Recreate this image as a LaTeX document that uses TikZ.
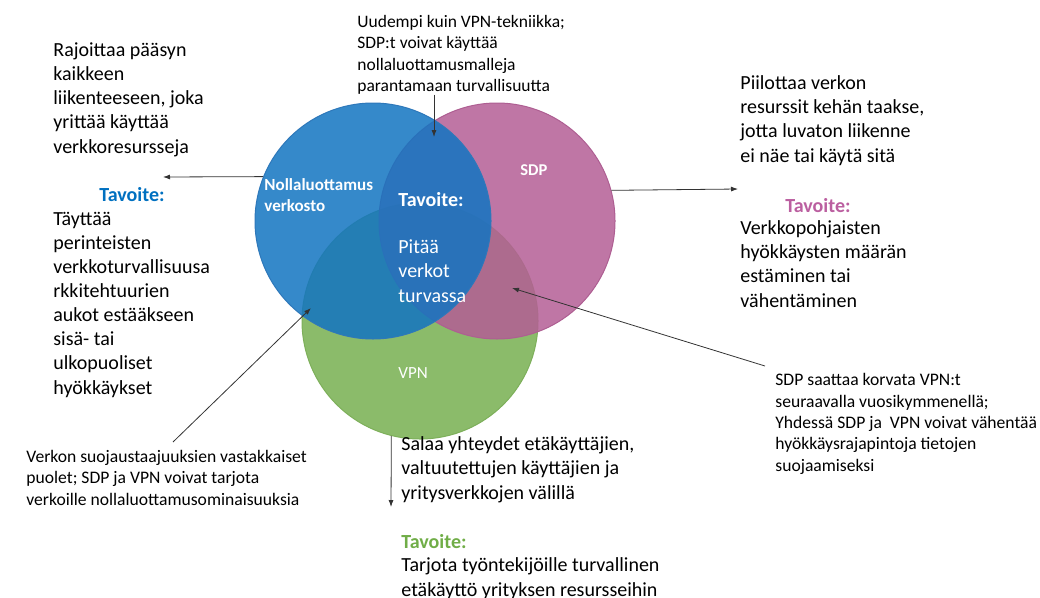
\documentclass[tikz,border=0pt]{standalone}
\usepackage{fontspec}
\setmainfont{Carlito}
\usepackage{tikz}
\usetikzlibrary{%
  arrows.meta, calc, positioning
}
\usepackage{xcolor}
\definecolor{ztblue}{HTML}{1274C1}
\definecolor{ztline}{HTML}{2E78BA}
\definecolor{sdppink}{HTML}{B45E95}
\definecolor{sdpline}{HTML}{AE5E92}
\definecolor{vpngreen}{HTML}{8BBB6A}
\definecolor{vpnline}{HTML}{7DAF5A}
\definecolor{goalblue}{HTML}{0070C0}
\definecolor{goalpink}{HTML}{BB5FA0}
\definecolor{goalgreen}{HTML}{70AD47}
\definecolor{arrowgray}{HTML}{333333}
% multi-line text nodes sit on the baseline of their last line
\tikzstyle{venn} = [%
  circle,
  minimum size=236pt,
  inner sep=0pt,
  line width=1pt,
  fill opacity=0.85
]
\tikzstyle{bigtxt} = [%
  anchor=base west,
  align=left,
  inner sep=0pt,
  font=\fontsize{20}{24.1}\selectfont
]
\tikzstyle{midtxt} = [%
  anchor=base west,
  align=left,
  inner sep=0pt,
  font=\fontsize{17.5}{21.5}\selectfont
]
\tikzstyle{smalltxt} = [%
  anchor=base west,
  align=left,
  inner sep=0pt,
  font=\fontsize{17.6}{21.3}\selectfont
]
\tikzstyle{goal} = [%
  anchor=base,
  inner sep=0pt,
  font=\fontsize{20}{24}\selectfont\bfseries
]

\begin{document}
\begin{tikzpicture}[%
  x=1pt, y=-1pt,
  >={Latex[length=7pt,width=5pt]},
  every path/.style={line width=0.8pt},
  link/.style={->,draw=arrowgray}
]
  \useasboundingbox (0,0) rectangle (1040,597);

  % Circles
  \node[venn,fill=vpngreen,draw=vpnline,fill opacity=1] (vpn) at (420,321) {};
  \node[venn,fill=sdppink,draw=sdpline] (sdp) at (497,221) {};
  \node[venn,fill=ztblue,draw=ztline] (zt) at (373,221) {};

  % Circle labels
  \node[anchor=base west,inner sep=0pt,align=left,text=white,
        font=\fontsize{17}{21}\selectfont\bfseries] (ztname) at (264,211)
        {Nollaluottamus\\verkosto};
  \node[anchor=base west,inner sep=0pt,text=white,
        font=\fontsize{16.5}{20}\selectfont\bfseries] (sdpname) at (520,175) {SDP};
  \node[anchor=base west,inner sep=0pt,text=white,
        font=\fontsize{17}{20}\selectfont] (vpnname) at (398,378) {VPN};
  \node[goal,anchor=base west,text=white] (coregoal) at (398,206) {Tavoite:};
  \node[bigtxt,text=white] (coretext) at (398,302) {Pitää\\verkot\\turvassa};

  % Texts
  \node[midtxt] (newer) at (357,91.5)
    {Uudempi kuin VPN-tekniikka;\\SDP:t voivat käyttää\\nollaluottamusmalleja\\parantamaan turvallisuutta};
  \node[bigtxt] (zttext) at (53,153)
    {Rajoittaa pääsyn\\kaikkeen\\liikenteeseen, joka\\yrittää käyttää\\verkkoresursseja};
  \node[goal,text=goalblue] (ztgoal) at (132,201) {Tavoite:};
  \node[bigtxt] (ztgoaltext) at (53,394)
    {Täyttää\\perinteisten\\verkkoturvallisuusa\\rkkitehtuurien\\aukot estääkseen\\sisä- tai\\ulkopuoliset\\hyökkäykset};
  \node[bigtxt] (sdptext) at (740,162)
    {Piilottaa verkon\\resurssit kehän taakse,\\jotta luvaton liikenne\\ei näe tai käytä sitä};
  \node[goal,text=goalpink] (sdpgoal) at (818,212) {Tavoite:};
  \node[bigtxt] (sdpgoaltext) at (740,307)
    {Verkkopohjaisten\\hyökkäysten määrän\\estäminen tai\\vähentäminen};
  \node[smalltxt] (replace) at (775,471)
    {SDP saattaa korvata VPN:t\\seuraavalla vuosikymmenellä;\\Yhdessä SDP ja\ \ VPN voivat vähentää\\hyökkäysrajapintoja tietojen\\suojaamiseksi};
  \node[smalltxt] (pair) at (26,505)
    {Verkon suojaustaajuuksien vastakkaiset\\puolet; SDP ja VPN voivat tarjota\\verkoille nollaluottamusominaisuuksia};
  \node[bigtxt] (vpntext) at (401,499)
    {Salaa yhteydet etäkäyttäjien,\\valtuutettujen käyttäjien ja\\yritysverkkojen välillä};
  \node[goal,anchor=base west,text=goalgreen] (vpngoal) at (401,548) {Tavoite:};
  \node[bigtxt] (vpngoaltext) at (401,596)
    {Tarjota työntekijöille turvallinen\\etäkäyttö yrityksen resursseihin};

  % Free ends
  \coordinate (ztout) at (163,177);
  \coordinate (sdpout) at (738,189);
  \coordinate (vpnout) at (391,507);
  \coordinate (newtip) at (434,137);
  \coordinate (pairtail) at (173,442);
  \coordinate (pairtip) at (311,308);
  \coordinate (replacetail) at (765,366);
  \coordinate (replacetip) at (512,288);

  % Connectors
  \draw[link] (zt.158) -- (ztout);
  \draw[link] (sdp.15) -- (sdpout);
  \draw[link] (vpn.256) -- (vpnout);
  \draw[link] (newer.south -| newtip) -- (newtip);
  \draw[link] (pairtail) -- (pairtip);
  \draw[link] (replacetail) -- (replacetip);

\end{tikzpicture}
\end{document}
